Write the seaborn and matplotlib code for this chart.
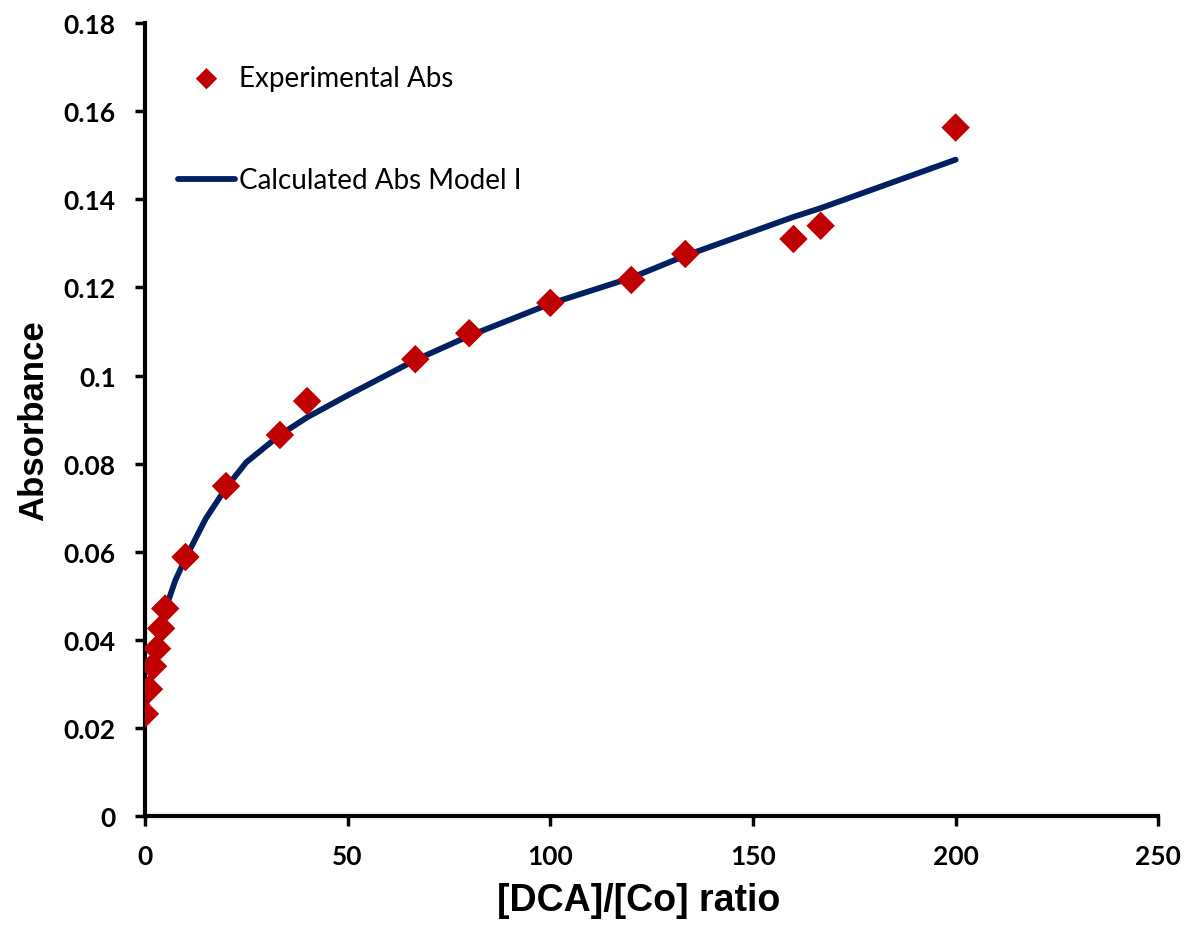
import numpy as np
import pandas as pd
import seaborn as sns
import matplotlib.pyplot as plt

# experimental points: [DCA]/[Co] ratio vs absorbance
ratio = [0, 1, 2, 3, 4, 5, 10, 20, 33.3, 40, 66.7, 80, 100, 120, 133.3, 160, 166.7, 200]
abs_exp = [0.0232, 0.0288, 0.0340, 0.0380, 0.0426, 0.0471, 0.0588, 0.0749, 0.0865,
           0.0942, 0.1037, 0.1096, 0.1165, 0.1217, 0.1276, 0.1310, 0.1340, 0.1563]

# model I curve
ratio_calc = [0, 1, 2, 3, 4, 5, 7.5, 10, 15, 20, 25, 33.3, 40, 50, 66.7, 80, 100,
              120, 133.3, 160, 166.7, 200]
abs_calc = [0.0235, 0.0290, 0.0335, 0.0380, 0.0425, 0.0468, 0.0535, 0.0585, 0.0675,
            0.0745, 0.0803, 0.0865, 0.0905, 0.0955, 0.1035, 0.1090, 0.1163, 0.1222,
            0.1272, 0.1360, 0.1380, 0.1490]

x_ticks = [0, 50, 100, 150, 200, 250]
y_ticks = [0, 0.02, 0.04, 0.06, 0.08, 0.1, 0.12, 0.14, 0.16, 0.18]
y_tick_labels = ['0', '0.02', '0.04', '0.06', '0.08', '0.1', '0.12', '0.14', '0.16', '0.18']

df_exp = pd.DataFrame({'ratio': ratio, 'abs': abs_exp})
df_calc = pd.DataFrame({'ratio': ratio_calc, 'abs': abs_calc})

sns.set_theme(style='ticks')
plt.rcParams['font.family'] = ['Lato', 'DejaVu Sans']

fig = plt.figure(figsize=(11.88, 9.28), dpi=100)
ax = fig.add_axes([0.122, 0.1196, 0.853, 0.8544])

sns.lineplot(data=df_calc, x='ratio', y='abs', ax=ax, color='#002060', linewidth=4.2,
             solid_capstyle='round', solid_joinstyle='round',
             label='Calculated Abs Model I', zorder=2)
sns.scatterplot(data=df_exp, x='ratio', y='abs', ax=ax, color='#C00000', marker='D',
                s=210, edgecolor='none', label='Experimental Abs', zorder=3)

ax.set_xlim(0, 250)
ax.set_ylim(0, 0.18)
ax.set_xticks(x_ticks)
ax.set_xticklabels([str(t) for t in x_ticks])
ax.set_yticks(y_ticks)
ax.set_yticklabels(y_tick_labels)
ax.tick_params(direction='out', length=7, width=2.5, labelsize=19, colors='black')
ax.xaxis.set_tick_params(pad=13)
ax.yaxis.set_tick_params(pad=14)
for lab in ax.get_xticklabels() + ax.get_yticklabels():
    lab.set_fontweight('bold')

for side in ['top', 'right']:
    ax.spines[side].set_visible(False)
for side in ['left', 'bottom']:
    ax.spines[side].set_linewidth(3)
    ax.spines[side].set_color('black')

ax.set_xlabel('[DCA]/[Co] ratio', fontsize=27, fontweight='bold', color='black',
              family=['Liberation Sans', 'DejaVu Sans'])
ax.xaxis.set_label_coords(0.487, -0.083)
ax.xaxis.label.set_va('top')
ax.set_ylabel('Absorbance', fontsize=25, fontweight='bold', color='black',
              family=['Liberation Sans', 'DejaVu Sans'], labelpad=10)

handles, labels = ax.get_legend_handles_labels()
order = [labels.index('Experimental Abs'), labels.index('Calculated Abs Model I')]
leg = ax.legend([handles[i] for i in order], [labels[i] for i in order],
                loc='upper left', bbox_to_anchor=(178 / 1188, 1 - 66 / 928),
                bbox_transform=fig.transFigure, frameon=False, borderpad=0,
                borderaxespad=0, fontsize=20, labelspacing=2.75, handlelength=2.05,
                handletextpad=0.15, markerscale=0.75)
for t in leg.get_texts():
    t.set_color('black')

fig.savefig('out.png', dpi=100)
